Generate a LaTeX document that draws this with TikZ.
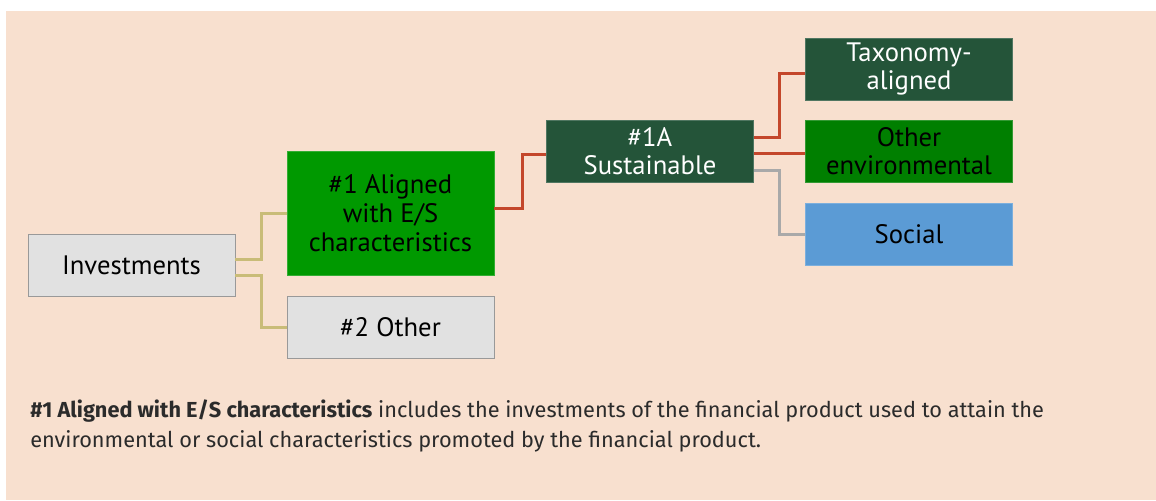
\documentclass[tikz,border=0pt]{standalone}
\usepackage{fontspec}
\setmainfont{PT Sans}
\newfontfamily\notefont{Fira Sans}
\usetikzlibrary{positioning}
\definecolor{peach}{HTML}{F8E0CF}
\definecolor{lightgrey}{HTML}{E1E1E1}
\definecolor{brightgreen}{HTML}{009900}
\definecolor{darkgreen}{HTML}{245439}
\definecolor{midgreen}{HTML}{007F00}
\definecolor{skyblue}{HTML}{5B9BD5}
\definecolor{olivelink}{HTML}{C9BC78}
\definecolor{rustlink}{HTML}{C4472B}
\definecolor{greylink}{HTML}{A9A9A9}
\definecolor{captext}{HTML}{2B2B2B}
\tikzset{font=\fontsize{20}{21.5}\selectfont}
\tikzset{every node/.append style={transform shape=false}}
\tikzset{
  box/.style={draw=#1!80!white, line width=0.6pt, minimum width=155.25pt,
    minimum height=46.5pt, inner sep=0pt, align=center},
  greybox/.style={box=gray, fill=lightgrey, text=black},
  link/.style={line width=2.25pt, #1}
}

\begin{document}
\begin{tikzpicture}[x=0.75pt,y=-0.75pt]
  \useasboundingbox (0,0) rectangle (1156,500);
  \fill[peach] (6,11) rectangle (1156,500);

  \node[greybox] (inv) at (131.5,265) {Investments};
  \node[box=brightgreen, fill=brightgreen, minimum height=93pt] (al) at (390.5,213) {\#1 Aligned\\with E/S\\characteristics};
  \node[greybox] (oth) at (390.5,327) {\#2 Other};
  \node[box=darkgreen, fill=darkgreen, text=white] (sus) at (650,151) {\#1A\\Sustainable};
  \node[box=darkgreen, fill=darkgreen, text=white] (tax) at (909,69) {Taxonomy-\\aligned};
  \node[box=midgreen, fill=midgreen] (env) at (909,151) {Other\\environmental};
  \node[box=skyblue, fill=skyblue] (soc) at (909,234) {Social};

  \draw[link=olivelink] ([yshift=4.5pt]inv.east) -- ++(19.5pt,0) |- (al.west);
  \draw[link=olivelink] ([yshift=-7.5pt]inv.east) -- ++(19.5pt,0) |- (oth.west);
  \draw[link=rustlink] ([yshift=3.75pt]al.east) -- ++(21pt,0) |- ([yshift=-2.25pt]sus.west);
  \draw[link=rustlink] ([yshift=10.5pt]sus.east) -- ++(19.5pt,0) |- ([yshift=-3pt]tax.west);
  \draw[link=rustlink] ([yshift=-1.5pt]sus.east) -- ([yshift=-1.5pt]env.west);
  \draw[link=greylink] ([yshift=-14.25pt]sus.east) -- ++(19.5pt,0) |- (soc.west);

  \node[anchor=north west, inner sep=0pt, align=left, text=captext,
    font=\notefont\fontsize{16.3}{22.5}\selectfont] (note) at (30,399)
    {\textbf{\#1 Aligned with E/S characteristics} includes the investments of the financial product used to attain the\\
     environmental or social characteristics promoted by the financial product.};
\end{tikzpicture}
\end{document}
